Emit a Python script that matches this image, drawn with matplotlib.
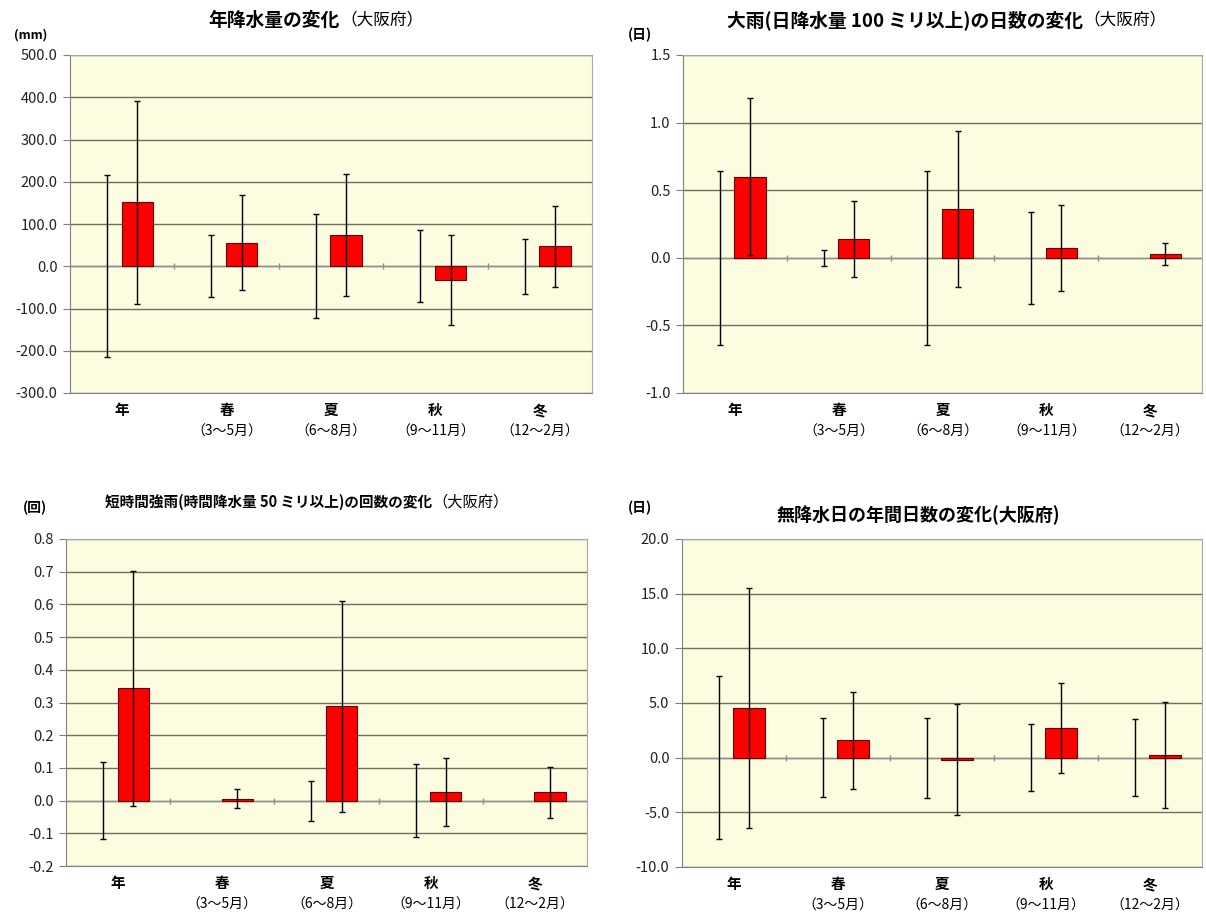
import numpy as np
import matplotlib
matplotlib.use('Agg')
import matplotlib.pyplot as plt

plt.rcParams['font.family'] = ['Noto Sans CJK JP', 'DejaVu Sans']

# categories
cats = ['年', '春', '夏', '秋', '冬']
months = ['', '（3～5月）', '（6～8月）', '（9～11月）', '（12～2月）']

# annual precipitation change (mm)
rain_change = [151, 56, 74, -33, 47]
rain_err = [240, 112, 145, 107, 95]
rain_nat = [215, 73, 123, 85, 65]

# heavy rain days (>=100 mm/day)
heavy_change = [0.60, 0.14, 0.36, 0.07, 0.03]
heavy_err = [0.58, 0.28, 0.575, 0.317, 0.08]
heavy_nat = [0.645, 0.057, 0.645, 0.34, 0.0]

# intense short rain counts (>=50 mm/h)
intense_change = [0.343, 0.006, 0.288, 0.025, 0.025]
intense_err = [0.36, 0.028, 0.323, 0.104, 0.078]
intense_nat = [0.118, 0.0, 0.061, 0.111, 0.0]

# dry days per year
dry_change = [4.55, 1.6, -0.17, 2.7, 0.24]
dry_err = [10.95, 4.45, 5.08, 4.13, 4.83]
dry_nat = [7.45, 3.6, 3.65, 3.05, 3.5]

W, H = 1206, 917
fig = plt.figure(figsize=(W / 100, H / 100), dpi=100)


def rect(l, r, t, b):
    return [l / W, 1 - b / H, (r - l) / W, (b - t) / H]


def panel(box, change, err, nat, ylim, step, fmt):
    ax = fig.add_axes(rect(*box))
    ax.set_facecolor('#FCFCE0')
    x = np.arange(len(cats))
    bw = 0.30
    off = 0.145

    # natural variability (no bar, only the range)
    nat = np.array(nat)
    keep = nat > 0
    ax.errorbar(x[keep] - off, np.zeros(keep.sum()), yerr=nat[keep], fmt='none',
                ecolor='black', elinewidth=1, capsize=2, capthick=1, zorder=4)

    ax.bar(x + off, change, width=bw, color='#FF0000', edgecolor='#600000',
           linewidth=0.8, zorder=3)
    ax.errorbar(x + off, change, yerr=err, fmt='none', ecolor='black',
                elinewidth=1, capsize=2, capthick=1, zorder=4)

    ax.set_xlim(-0.5, len(cats) - 0.5)
    ax.set_ylim(*ylim)
    ticks = np.arange(ylim[0], ylim[1] + step / 2, step)
    ax.set_yticks(ticks)
    ax.set_yticklabels([fmt.format(t) for t in ticks], fontsize=10.5, color='#222222')
    ax.yaxis.grid(True, color='#6f6f5c', linewidth=1)
    ax.set_axisbelow(True)
    ax.tick_params(axis='y', direction='out', length=5, color='#808080', pad=4)
    ax.set_xticks([])

    # category axis at zero with tick marks between categories
    ax.axhline(0, color='#909090', linewidth=1, zorder=2)
    ax.plot(np.arange(0.5, len(cats) - 0.5), np.zeros(len(cats) - 1), '|',
            color='#909090', markersize=5, zorder=2)

    for s in ax.spines.values():
        s.set_color('#a8a8a8')
    ax.spines['left'].set_color('#808080')
    ax.spines['bottom'].set_color('#808080')

    for i, (c, m) in enumerate(zip(cats, months)):
        ax.annotate(c, xy=(i, 0), xycoords=('data', 'axes fraction'),
                    xytext=(0, -17 * 0.72), textcoords='offset points',
                    ha='center', va='center', fontsize=10.5, fontweight='bold')
        if m:
            ax.annotate(m, xy=(i, 0), xycoords=('data', 'axes fraction'),
                        xytext=(0, -39 * 0.72), textcoords='offset points',
                        ha='center', va='center', fontsize=10)
    return ax


panel((70, 592, 55, 393), rain_change, rain_err, rain_nat, (-300, 500), 100, '{:.1f}')
panel((683, 1202, 55, 393), heavy_change, heavy_err, heavy_nat, (-1.0, 1.5), 0.5, '{:.1f}')
panel((66, 587, 539, 866), intense_change, intense_err, intense_nat, (-0.2, 0.8), 0.1, '{:.1f}')
panel((682, 1202, 539, 867), dry_change, dry_err, dry_nat, (-10, 20), 5, '{:.1f}')


def ftext(px, py, s, **kw):
    fig.text(px / W, 1 - py / H, s, va='center', **kw)


# titles
ftext(340, 20, '年降水量の変化', ha='right', fontsize=13.5, fontweight='bold')
ftext(340, 20, '（大阪府）', ha='left', fontsize=12)
ftext(1083, 20, '大雨(日降水量 100 ミリ以上)の日数の変化', ha='right', fontsize=13.5, fontweight='bold')
ftext(1083, 20, '（大阪府）', ha='left', fontsize=12)
ftext(432, 502, '短時間強雨(時間降水量 50 ミリ以上)の回数の変化', ha='right', fontsize=10.5, fontweight='bold')
ftext(432, 502, '（大阪府）', ha='left', fontsize=11)
ftext(918, 515, '無降水日の年間日数の変化(大阪府)', ha='center', fontsize=13, fontweight='bold')

# units
ftext(31, 35, '(mm)', ha='center', fontsize=9, fontweight='bold')
ftext(640, 35, '(日)', ha='center', fontsize=10, fontweight='bold')
ftext(35, 508, '(回)', ha='center', fontsize=10, fontweight='bold')
ftext(640, 508, '(日)', ha='center', fontsize=10, fontweight='bold')

fig.savefig('out.png', dpi=100)
